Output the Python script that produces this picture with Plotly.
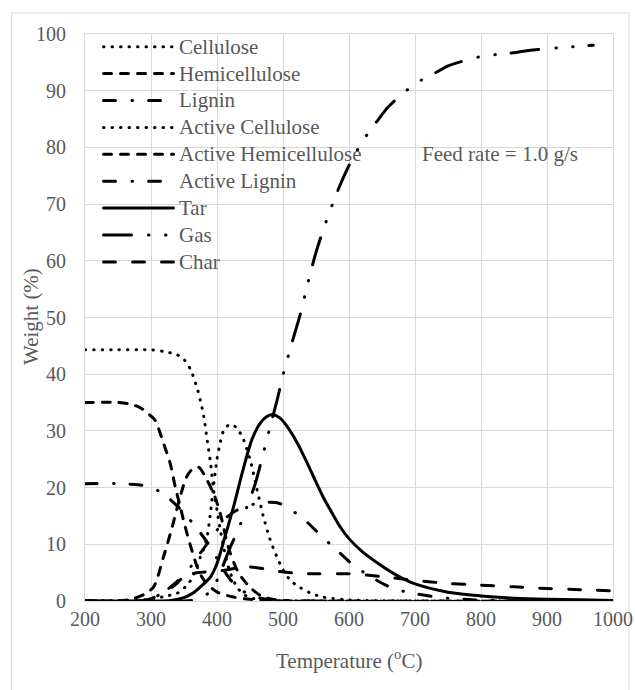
import plotly.graph_objects as go

# ---------------- data ----------------
cellulose_T = [200, 250, 300, 320, 340, 350, 360, 370, 375, 380, 385, 390, 395, 400, 405, 410, 415, 420, 430, 440, 450, 470, 500, 600, 800, 1000]
cellulose_W = [44.3, 44.3, 44.3, 44.0, 43.4, 42.6, 40.8, 37.5, 35.3, 32.5, 28.5, 24.5, 19.5, 16.0, 12.5, 9.5, 7.0, 5.0, 2.5, 1.2, 0.6, 0.15, 0, 0, 0, 0]

hemi_T = [200, 250, 270, 285, 296, 306, 319, 329, 337, 345, 352, 362, 372, 382, 400, 425, 450, 500, 1000]
hemi_W = [35.0, 35.0, 34.7, 34.0, 33.0, 31.9, 27.8, 24.3, 20.0, 16.3, 13.0, 8.9, 5.4, 3.4, 1.6, 0.7, 0.3, 0, 0]

lignin_T = [200, 250, 280, 300, 314, 328, 341, 352, 365, 380, 390, 400, 410, 420, 430, 440, 450, 470, 500, 1000]
lignin_W = [20.7, 20.7, 20.5, 20.1, 19.2, 18.0, 16.6, 15.2, 13.5, 11.2, 9.5, 7.5, 5.5, 3.8, 2.6, 1.7, 1.1, 0.4, 0.1, 0]

acell_T = [200, 300, 320, 340, 357, 365, 375, 380, 385, 390, 395, 400, 405, 410, 420, 430, 440, 450, 460, 470, 480, 490, 500, 510, 520, 540, 560, 600, 700, 1000]
acell_W = [0, 0.3, 0.8, 1.4, 3.1, 4.8, 7.8, 9.2, 11.3, 15.5, 20.5, 25.0, 28.0, 30.0, 31.2, 30.5, 28.5, 25.0, 20.0, 15.0, 11.0, 8.0, 5.5, 3.8, 2.8, 1.5, 0.7, 0.2, 0, 0]

ahemi_T = [200, 250, 270, 290, 304, 319, 332, 344, 354, 363, 372, 385, 397, 405, 418, 433, 452, 470, 500, 550, 1000]
ahemi_W = [0, 0, 0.3, 1.2, 2.5, 7.8, 13.0, 18.3, 21.9, 23.3, 23.6, 21.3, 18.3, 15.4, 9.2, 4.9, 2.2, 0.7, 0.1, 0, 0]

alig_T = [200, 280, 300, 320, 340, 360, 375, 387, 400, 415, 430, 445, 460, 480, 495, 510, 530, 556, 582, 607, 637, 667, 700, 740, 780, 850, 1000]
alig_W = [0, 0, 0.5, 1.5, 3.2, 6.0, 8.5, 10.4, 12.5, 14.8, 16.0, 16.7, 17.2, 17.4, 17.2, 16.2, 14.6, 11.7, 8.9, 6.3, 4.0, 2.2, 1.3, 0.6, 0.25, 0.05, 0]

tar_T = [200, 300, 330, 350, 365, 375, 390, 400, 412, 425, 438, 453, 465, 475, 484, 496, 508, 521, 536, 546, 561, 572, 587, 600, 620, 647, 673, 698, 748, 800, 850, 900, 950, 1000]
tar_W = [0, 0, 0.1, 0.6, 1.5, 2.5, 4.2, 6.6, 11.3, 16.6, 22.5, 28.5, 31.3, 32.5, 32.9, 32.2, 30.5, 28.0, 24.5, 22.0, 18.3, 16.0, 13.0, 11.0, 8.7, 6.4, 4.5, 3.1, 1.6, 0.9, 0.5, 0.3, 0.2, 0.1]

gas_T = [200, 350, 370, 385, 395, 405, 418, 433, 445, 458, 470, 480, 491, 500, 513, 526, 538, 550, 562, 575, 587, 600, 615, 630, 645, 660, 688, 710, 733, 753, 799, 824, 849, 872, 920, 970]
gas_W = [0, 0, 0.3, 1.2, 2.5, 5.0, 8.9, 12.8, 16.5, 20.7, 26.0, 30.5, 35.4, 39.8, 45.3, 50.5, 56.2, 61.5, 65.8, 70.0, 73.5, 76.8, 80.0, 82.7, 85.0, 87.2, 90.1, 91.9, 93.3, 94.5, 96.0, 96.4, 96.7, 97.1, 97.6, 98.0]

char_T = [200, 280, 300, 320, 335, 350, 370, 390, 410, 430, 450, 470, 496, 520, 550, 600, 650, 700, 750, 800, 850, 900, 950, 1000]
char_W = [0, 0, 0.4, 1.6, 3.0, 4.4, 5.0, 5.2, 5.4, 5.8, 6.0, 5.7, 5.2, 4.9, 4.8, 4.8, 4.3, 3.65, 3.1, 2.8, 2.5, 2.2, 2.0, 1.8]

series_names = ["Cellulose", "Hemicellulose", "Lignin", "Active Cellulose",
                "Active Hemicellulose", "Active Lignin", "Tar", "Gas", "Char"]

x_ticks = [200, 300, 400, 500, 600, 700, 800, 900, 1000]
y_ticks = [0, 10, 20, 30, 40, 50, 60, 70, 80, 90, 100]

# ---------------- styles (dash arrays for round line caps) ----------------
DOT = "0.5px,8px"
DASH = "8px,9px"
LDASHDOT = "12px,16.5px,0.5px,16px"
LDASHDOTDOT = "28px,17px,0.5px,16.5px,0.5px,16px"
LDASH = "12px,17px"
dash_styles = [DOT, DASH, LDASHDOT, DOT, DASH, LDASHDOT, "solid", LDASHDOTDOT, LDASH]

data = [(cellulose_T, cellulose_W), (hemi_T, hemi_W), (lignin_T, lignin_W),
        (acell_T, acell_W), (ahemi_T, ahemi_W), (alig_T, alig_W),
        (tar_T, tar_W), (gas_T, gas_W), (char_T, char_W)]

FONT = "Liberation Serif, Times New Roman, serif"
GREY = "#595959"
GRID = "#d9d9d9"
LW = 3

fig = go.Figure()
for name, (t, w), d in zip(series_names, data, dash_styles):
    fig.add_trace(go.Scatter(x=t, y=w, mode="lines", name=name,
                             line=dict(color="black", width=LW, dash=d,
                                       shape="spline", smoothing=0.8),
                             showlegend=False))

# plot-area geometry in pixels
W_FIG, H_FIG = 635, 690
L, R, T, B = 85, 22, 34, 89
PW = W_FIG - L - R
PH = H_FIG - T - B


def px2paper(xp, yp):
    return (xp - L) / PW, (H_FIG - B - yp) / PH


shapes = []
annotations = []

# outer chart border
x0, y0 = px2paper(12, 13)
x1, y1 = px2paper(629, 700)
shapes.append(dict(type="rect", xref="paper", yref="paper", x0=x0, y0=y1, x1=x1, y1=y0,
                   line=dict(color=GRID, width=1), fillcolor="rgba(0,0,0,0)", layer="below"))

# custom legend
for i, (name, d) in enumerate(zip(series_names, dash_styles)):
    yp = 46.7 + i * 26.9
    lx0, ly = px2paper(103.5, yp)
    lx1, _ = px2paper(173.5, yp)
    shapes.append(dict(type="line", xref="paper", yref="paper", x0=lx0, x1=lx1, y0=ly, y1=ly,
                       line=dict(color="black", width=LW, dash=d)))
    tx, _ = px2paper(177, yp)
    annotations.append(dict(xref="paper", yref="paper", x=tx, y=ly, text=name,
                            xanchor="left", yanchor="middle", showarrow=False,
                            font=dict(family=FONT, size=21, color=GREY)))

annotations.append(dict(xref="x", yref="y", x=708, y=78.9, text="Feed rate = 1.0 g/s",
                        xanchor="left", yanchor="middle", showarrow=False,
                        font=dict(family=FONT, size=21, color=GREY)))

# axis titles
ax, ay = px2paper(349, 659.5)
annotations.append(dict(xref="paper", yref="paper", x=ax, y=ay, text="Temperature (<sup>o</sup>C)",
                        xanchor="center", yanchor="middle", showarrow=False,
                        font=dict(family=FONT, size=21, color=GREY)))
bx, by = px2paper(31, 317)
annotations.append(dict(xref="paper", yref="paper", x=bx, y=by, text="Weight (%)",
                        textangle=-90, xanchor="center", yanchor="middle", showarrow=False,
                        font=dict(family=FONT, size=21, color=GREY)))

fig.update_layout(
    width=W_FIG, height=H_FIG,
    margin=dict(l=L, r=R, t=T, b=B, pad=0, autoexpand=False),
    paper_bgcolor="white", plot_bgcolor="white",
    shapes=shapes, annotations=annotations,
    font=dict(family=FONT, size=20, color=GREY),
    xaxis=dict(range=[200, 1000], tickvals=x_ticks, ticktext=[str(v) for v in x_ticks],
               showgrid=True, gridcolor=GRID, gridwidth=1, zeroline=False,
               showline=True, linecolor=GRID, linewidth=1, mirror=True, automargin=False,
               ticks="", tickfont=dict(family=FONT, size=20, color=GREY)),
    yaxis=dict(range=[0, 100], tickvals=y_ticks, ticktext=[str(v) for v in y_ticks],
               showgrid=True, gridcolor=GRID, gridwidth=1, zeroline=False,
               showline=True, linecolor=GRID, linewidth=1, mirror=True, automargin=False,
               ticks="", ticklabelstandoff=14,
               tickfont=dict(family=FONT, size=20, color=GREY)),
)

post = """
document.body.style.margin='0px';
document.body.style.overflow='hidden';
document.querySelectorAll('.scatterlayer path.js-line, .shapelayer path').forEach(function(p){
  p.style.strokeLinecap='round';
});
"""

fig.write_html("out.html", config={"displayModeBar": False}, post_script=post)
